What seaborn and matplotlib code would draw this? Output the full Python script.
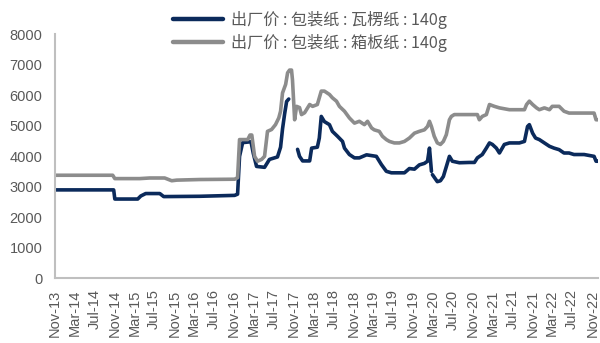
import matplotlib
matplotlib.use("Agg")
import matplotlib.pyplot as plt
import matplotlib.dates as mdates
import numpy as np
import pandas as pd
import seaborn as sns

# 出厂价:包装纸:瓦楞纸:140g  (segments split where quotes are missing)
corr_dates = [
    "2013-11-01", "2014-10-26", "2014-11-02", "2015-03-22", "2015-04-10", "2015-05-10",
    "2015-08-04", "2015-08-28", "2016-04-04", "2016-11-04", "2016-11-22", "2016-12-04",
    "2016-12-23", "2017-02-12", "2017-02-26", "2017-03-18", "2017-05-06", "2017-06-05",
    "2017-07-24", "2017-08-12", "2017-08-24", "2017-09-06", "2017-09-18", "2017-10-01",
    "2017-11-24", "2017-12-06", "2017-12-25", "2018-02-06", "2018-02-18", "2018-03-25",
    "2018-04-06", "2018-04-18", "2018-05-07", "2018-06-07", "2018-06-25", "2018-07-26",
    "2018-08-26", "2018-09-07", "2018-10-07", "2018-11-07", "2018-12-07", "2019-01-20",
    "2019-03-21", "2019-04-21", "2019-05-21", "2019-06-21", "2019-09-09", "2019-10-09",
    "2019-11-09", "2019-12-09", "2020-01-09", "2020-01-28", "2020-02-09", "2020-02-21",
    "2020-02-27", "2020-03-28", "2020-04-16", "2020-05-04", "2020-06-10", "2020-06-28",
    "2020-08-10", "2020-10-10", "2020-11-10", "2020-11-28", "2020-12-28", "2021-01-22",
    "2021-02-10", "2021-02-28", "2021-03-24", "2021-04-12", "2021-05-12", "2021-06-12",
    "2021-08-12", "2021-09-12", "2021-10-01", "2021-10-12", "2021-11-01", "2021-11-19",
    "2021-12-12", "2022-01-12", "2022-02-12", "2022-03-12", "2022-04-12", "2022-05-12",
    "2022-06-12", "2022-07-12", "2022-09-12", "2022-11-12", "2022-11-24", "2022-12-06",
]
corr_values = [
    2900, 2900, 2600, 2600, 2700, 2780,
    2780, 2680, 2690, 2720, 2760, 4000,
    4450, 4480, 4100, 3670, 3640, 3900,
    3980, 4300, 4900, 5400, 5800, 5880,
    4230, 4000, 3850, 3850, 4270, 4300,
    4600, 5310, 5140, 5040, 4820, 4660,
    4490, 4270, 4060, 3950, 3950, 4050,
    4000, 3730, 3510, 3460, 3460, 3600,
    3580, 3720, 3770, 3840, 4270, 3510,
    3400, 3170, 3200, 3340, 4000, 3840,
    3790, 3800, 3800, 3950, 4060, 4270,
    4440, 4390, 4270, 4110, 4390, 4440,
    4440, 4490, 4980, 5040, 4760, 4600,
    4550, 4440, 4330, 4270, 4220, 4110,
    4110, 4060, 4060, 4000, 3840, 3840,
]
corr_segment = [0] * 24 + [1] * 30 + [2] * 36

# 出厂价:包装纸:箱板纸:140g
board_dates = [
    "2013-11-01", "2014-10-20", "2014-11-02", "2015-04-03", "2015-06-03", "2015-09-03",
    "2015-10-16", "2015-11-16", "2016-04-04", "2016-11-04", "2016-11-22", "2016-12-04",
    "2017-01-23", "2017-02-06", "2017-02-17", "2017-03-06", "2017-03-24", "2017-04-18",
    "2017-05-06", "2017-05-24", "2017-06-18", "2017-07-12", "2017-08-01", "2017-08-12",
    "2017-08-24", "2017-09-12", "2017-09-24", "2017-10-06", "2017-10-18", "2017-10-24",
    "2017-11-06", "2017-11-18", "2017-12-06", "2017-12-18", "2018-01-06", "2018-02-06",
    "2018-02-24", "2018-03-25", "2018-04-18", "2018-05-07", "2018-06-07", "2018-06-25",
    "2018-07-20", "2018-08-07", "2018-09-07", "2018-10-07", "2018-11-07", "2018-12-07",
    "2019-01-07", "2019-01-26", "2019-02-20", "2019-03-08", "2019-04-08", "2019-04-27",
    "2019-05-21", "2019-06-09", "2019-07-09", "2019-08-09", "2019-09-09", "2019-10-09",
    "2019-11-09", "2019-12-09", "2020-01-09", "2020-01-28", "2020-02-09", "2020-02-21",
    "2020-03-09", "2020-03-28", "2020-04-16", "2020-05-04", "2020-05-22", "2020-06-10",
    "2020-06-22", "2020-07-10", "2020-11-28", "2020-12-10", "2020-12-28", "2021-01-22",
    "2021-02-10", "2021-03-12", "2021-04-12", "2021-06-12", "2021-09-12", "2021-09-25",
    "2021-10-12", "2021-11-01", "2021-11-25", "2021-12-12", "2022-01-12", "2022-02-12",
    "2022-03-01", "2022-04-12", "2022-05-12", "2022-06-12", "2022-11-12", "2022-11-24",
    "2022-12-06",
]
board_values = [
    3380, 3380, 3270, 3270, 3290, 3290,
    3200, 3220, 3240, 3250, 3300, 4550,
    4550, 4700, 4700, 4000, 3840, 3900,
    4000, 4820, 4880, 5040, 5260, 5480,
    6080, 6360, 6740, 6830, 6830, 6500,
    5200, 5640, 5600, 5370, 5430, 5700,
    5640, 5700, 6140, 6140, 6030, 5920,
    5810, 5640, 5480, 5260, 5090, 5150,
    5040, 5150, 4930, 4870, 4820, 4660,
    4550, 4490, 4440, 4440, 4490, 4600,
    4760, 4820, 4870, 4980, 5150, 4980,
    4660, 4440, 4390, 4490, 4710, 5200,
    5310, 5370, 5370, 5200, 5310, 5370,
    5700, 5640, 5590, 5530, 5530, 5700,
    5810, 5700, 5590, 5530, 5590, 5530,
    5640, 5640, 5480, 5420, 5420, 5200,
    5200,
]

corr_label = "出厂价 : 包装纸 : 瓦楞纸 : 140g"
board_label = "出厂价 : 包装纸 : 箱板纸 : 140g"
series_colors = {corr_label: "#0B2A5B", board_label: "#8C8C8C"}

df = pd.concat([
    pd.DataFrame({"date": pd.to_datetime(corr_dates), "value": corr_values,
                  "series": corr_label, "seg": [f"c{s}" for s in corr_segment]}),
    pd.DataFrame({"date": pd.to_datetime(board_dates), "value": board_values,
                  "series": board_label, "seg": "b0"}),
], ignore_index=True)

sns.set_theme(style="white")
plt.rcParams["font.family"] = ["Liberation Sans", "Noto Sans CJK SC", "DejaVu Sans"]

text_color = "#595959"
axis_color = "#BFBFBF"

fig = plt.figure(figsize=(6.0, 3.43), dpi=100)
ax = fig.add_axes([55 / 600, 1 - 278.3 / 343, 543 / 600, (278.3 - 34.4) / 343])

sns.lineplot(data=df, x="date", y="value", hue="series", units="seg",
             estimator=None, palette=series_colors,
             hue_order=[corr_label, board_label], linewidth=2.6, ax=ax)

ax.set_xlim(pd.Timestamp("2013-11-01"), pd.Timestamp("2022-12-06"))
ax.set_ylim(0, 8000)
ax.set_yticks(np.arange(0, 8001, 1000))
ax.set_xlabel("")
ax.set_ylabel("")

ax.xaxis.set_major_locator(mdates.MonthLocator(bymonth=[3, 7, 11]))
ax.xaxis.set_major_formatter(mdates.DateFormatter("%b-%y"))

for side in ("top", "right"):
    ax.spines[side].set_visible(False)
for side in ("left", "bottom"):
    ax.spines[side].set_color(axis_color)
    ax.spines[side].set_linewidth(1.5)

ax.tick_params(axis="both", which="major", length=5, width=1.2, color=axis_color,
               labelcolor=text_color, labelsize=10.5, direction="out")
ax.tick_params(axis="y", pad=4)
ax.tick_params(axis="x", pad=3)
plt.setp(ax.get_xticklabels(), rotation=90)

handles, labels = ax.get_legend_handles_labels()
for h in handles:
    h.set_linewidth(3.2)
if ax.get_legend() is not None:
    ax.get_legend().remove()
leg = fig.legend(handles, labels, loc="upper left", bbox_to_anchor=(173 / 600, 1 - 11 / 343),
                 frameon=False, fontsize=11.6, handlelength=3.1, handletextpad=0.5,
                 labelspacing=0.3, borderaxespad=0, borderpad=0)
for t in leg.get_texts():
    t.set_color(text_color)
    t.set_family(["Noto Sans CJK SC", "DejaVu Sans"])

fig.savefig("out.png", dpi=100)
